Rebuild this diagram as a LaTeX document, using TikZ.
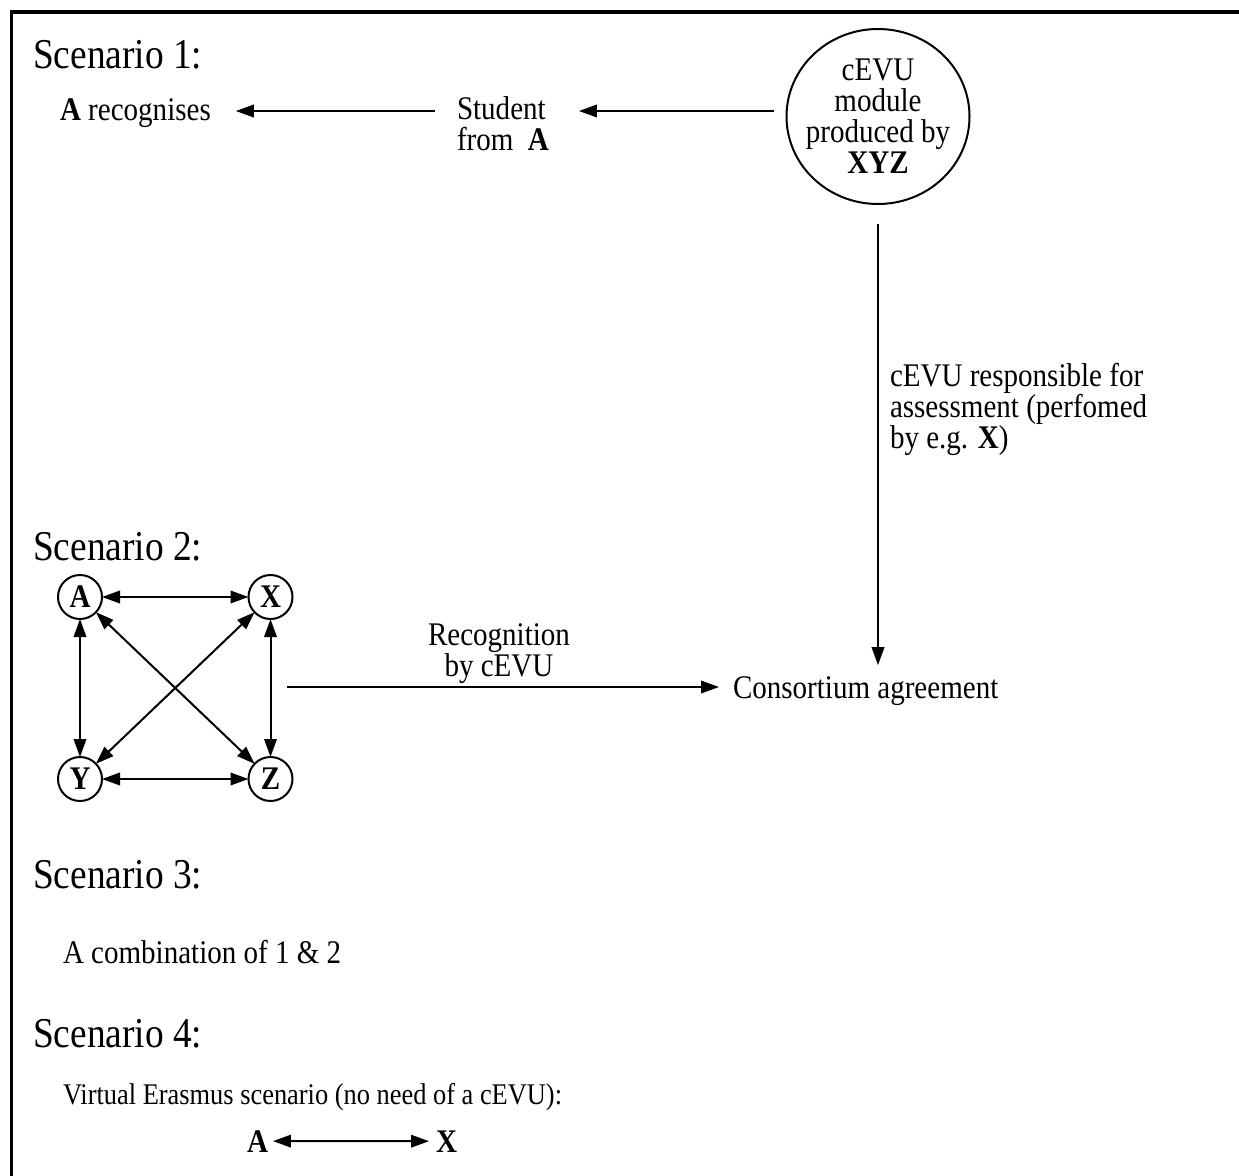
\documentclass[tikz,border=0pt]{standalone}
\usepackage{fontspec}
\setmainfont{Liberation Serif}[FakeStretch=0.88]
\usetikzlibrary{arrows.meta,shapes.geometric}
\begin{document}
\begin{tikzpicture}[x=1pt,y=-1pt,
  every node/.style={inner sep=0pt, outer sep=0pt},
  heading/.style={anchor=base west, font=\fontsize{42.5}{48}\selectfont},
  body/.style={font=\fontsize{33}{31}\selectfont},
  small/.style={font=\fontsize{30}{33}\selectfont},
  arr/.style={line width=2pt, -{Triangle[length=18pt,width=12.5pt]}},
  darr/.style={line width=2pt, {Triangle[length=18pt,width=12.5pt]}-{Triangle[length=18pt,width=12.5pt]}},
  party/.style={circle, draw, line width=2pt, minimum size=44pt,
                font=\fontsize{33}{33}\selectfont\bfseries},
]
\useasboundingbox (0,0) rectangle (1239,1175);

% outer frame (top and left edges)
\draw[line width=3.3pt] (1260,12) -- (11.5,12) -- (11.5,1200);

% ---------- Scenario 1 ----------
\node[heading] (s1) at (33,68) {Scenario 1:};
\node[body, anchor=base west] (arec) at (60,120) {\textbf{A} recognises};
\node[body, anchor=north west, align=left] (stud) at (457,97) {Student\\from\ \ \textbf{A}};
\node[ellipse, draw, line width=2pt, minimum width=183pt, minimum height=175pt] (mod) at (878,116.5) {};
\node[body, align=center] (modtxt) at (mod.center) {cEVU\\module\\produced by\\\textbf{XYZ}};
\coordinate (row1) at (0,111);

\draw[arr, shorten <=22pt, shorten >=25pt] (stud.west |- row1) -- (arec.east |- row1);
\draw[arr, shorten <=13pt, shorten >=30pt] (mod.west |- row1) -- (stud.east |- row1);

% assessment path
\node[body, anchor=base west] (cons) at (733,698) {Consortium agreement};
\draw[arr, shorten <=20pt, shorten >=11pt] (mod.south) -- (mod.south |- cons.north);
\node[body, anchor=north west, align=left] (resp) at (890,363)
  {cEVU responsible for\\assessment (perfomed\\by e.g. \textbf{X})};

% ---------- Scenario 2 ----------
\node[heading] (s2) at (33,560) {Scenario 2:};
\node[party] (pa) at (80,597) {A};
\node[party] (px) at (270.5,597) {X};
\node[party] (py) at (80,779) {Y};
\node[party] (pz) at (270.5,779) {Z};
\draw[darr] (pa) -- (px);
\draw[darr] (py) -- (pz);
\draw[darr] (pa) -- (py);
\draw[darr] (px) -- (pz);
\draw[darr] (pa) -- (pz);
\draw[darr] (px) -- (py);

\coordinate (gridout) at (287,687);
\draw[arr, shorten >=14pt] (gridout) -- (gridout -| cons.west);
\node[body, anchor=north, align=center] (recog) at (499,624) {Recognition\\by cEVU};

% ---------- Scenario 3 ----------
\node[heading] (s3) at (33,888) {Scenario 3:};
\node[body, anchor=base west] (comb) at (63,963) {A combination of 1 \& 2};

% ---------- Scenario 4 ----------
\node[heading] (s4) at (33,1047) {Scenario 4:};
\node[small, anchor=base west] (virt) at (63,1104) {Virtual Erasmus scenario (no need of a cEVU):};
\node[body, anchor=base west] (va) at (247,1152) {\textbf{A}};
\node[body, anchor=base west] (vx) at (436,1152) {\textbf{X}};
\draw[darr, shorten <=5pt, shorten >=7pt] (va.east) -- (vx.west);
\end{tikzpicture}
\end{document}
